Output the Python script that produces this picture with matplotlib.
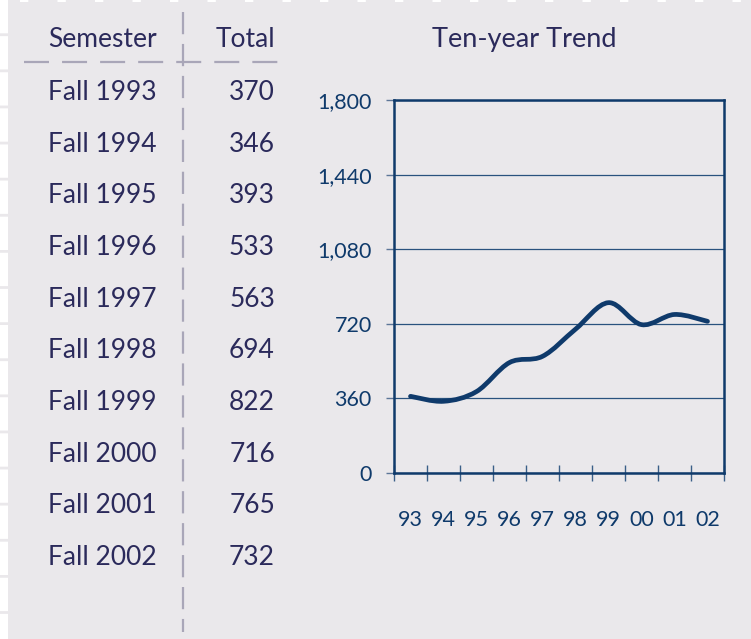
import numpy as np
import matplotlib
matplotlib.use("Agg")
import matplotlib.pyplot as plt
from matplotlib.lines import Line2D
from matplotlib.path import Path
from matplotlib.patches import PathPatch

semesters = ['Fall 1993', 'Fall 1994', 'Fall 1995', 'Fall 1996', 'Fall 1997',
             'Fall 1998', 'Fall 1999', 'Fall 2000', 'Fall 2001', 'Fall 2002']
totals = [370, 346, 393, 533, 563, 694, 822, 716, 765, 732]
year_labels = ['93', '94', '95', '96', '97', '98', '99', '00', '01', '02']
y_ticks = [0, 360, 720, 1080, 1440, 1800]

plt.rcParams['font.family'] = ['Lato', 'DejaVu Sans']
plt.rcParams['lines.scale_dashes'] = False

BG = '#eae8eb'
TXT = '#2b2a5b'
NAVY = '#0f3a6b'
DASH = '#a9a6b8'

W, H = 751, 639
fig = plt.figure(figsize=(W / 100, H / 100), dpi=100, facecolor=BG)


def fx(px):
    return px / W


def fy(py):
    return 1 - py / H


# white dashed edges (top and left)
fig.add_artist(Line2D([fx(20), 1], [fy(1), fy(1)], color='white', lw=1.5,
                      dashes=(6, 21), dash_capstyle='butt'))
fig.add_artist(Line2D([fx(4), fx(4)], [1, 0], color='white', lw=5.8,
                      dashes=(24, 2), dash_capstyle='butt'))

# table separators
fig.add_artist(Line2D([fx(183), fx(183)], [fy(12), fy(632)], color=DASH,
                      lw=1.6, dashes=(16, 7), dash_capstyle='butt'))
fig.add_artist(Line2D([fx(24), fx(288)], [fy(62), fy(62)], color=DASH,
                      lw=1.6, dashes=(18, 9.4), dash_capstyle='butt'))

# table text
fs = 19
fig.text(fx(102.5), fy(47), 'Semester', ha='center', va='baseline',
         color=TXT, fontsize=fs)
fig.text(fx(275), fy(47), 'Total', ha='right', va='baseline',
         color=TXT, fontsize=fs)
for i, (sem, tot) in enumerate(zip(semesters, totals)):
    base = 100 + i * 51.67
    fig.text(fx(102.5), fy(base), sem, ha='center', va='baseline',
             color=TXT, fontsize=fs)
    fig.text(fx(275), fy(base), f'{tot:,}', ha='right', va='baseline',
             color=TXT, fontsize=fs)

fig.text(fx(524), fy(47), 'Ten-year Trend', ha='center', va='baseline',
         color=TXT, fontsize=19.5)

# trend chart
ax = fig.add_axes([fx(394), fy(473), fx(724) - fx(394), (473 - 100) / H])
ax.set_facecolor(BG)

x = np.arange(len(totals), dtype=float)
y = np.array(totals, dtype=float)
verts = [(x[0], y[0])]
codes = [Path.MOVETO]
n = len(x)
for i in range(n - 1):
    i0, i3 = max(i - 1, 0), min(i + 2, n - 1)
    c1 = (x[i] + (x[i + 1] - x[i0]) / 6, y[i] + (y[i + 1] - y[i0]) / 6)
    c2 = (x[i + 1] - (x[i3] - x[i]) / 6, y[i + 1] - (y[i3] - y[i]) / 6)
    verts += [c1, c2, (x[i + 1], y[i + 1])]
    codes += [Path.CURVE4] * 3
ax.add_patch(PathPatch(Path(verts, codes), fill=False, edgecolor=NAVY,
                       lw=3.4, capstyle='round', joinstyle='round', zorder=5))

ax.set_xlim(-0.5, n - 0.5)
ax.set_ylim(0, 1800)
ax.set_yticks(y_ticks)
ax.set_yticklabels([f'{v:,}' for v in y_ticks])
ax.yaxis.grid(True, color='#2a527e', lw=0.9)
ax.set_axisbelow(True)

ax.set_xticks(x)
ax.set_xticklabels(year_labels)
ax.set_xticks(np.arange(-0.5, n), minor=True)
ax.tick_params(axis='x', which='major', length=0, pad=27,
               labelsize=15.5, labelcolor=NAVY)
ax.tick_params(axis='x', which='minor', direction='inout', length=11,
               width=1.0, color='#3b5f88')
ax.tick_params(axis='y', direction='out', length=6, width=1.0,
               color='#5d7698', pad=10, labelsize=15.5, labelcolor=NAVY)

for s in ax.spines.values():
    s.set_color(NAVY)
    s.set_linewidth(1.8)

fig.savefig('out.png', dpi=100, facecolor=BG)
